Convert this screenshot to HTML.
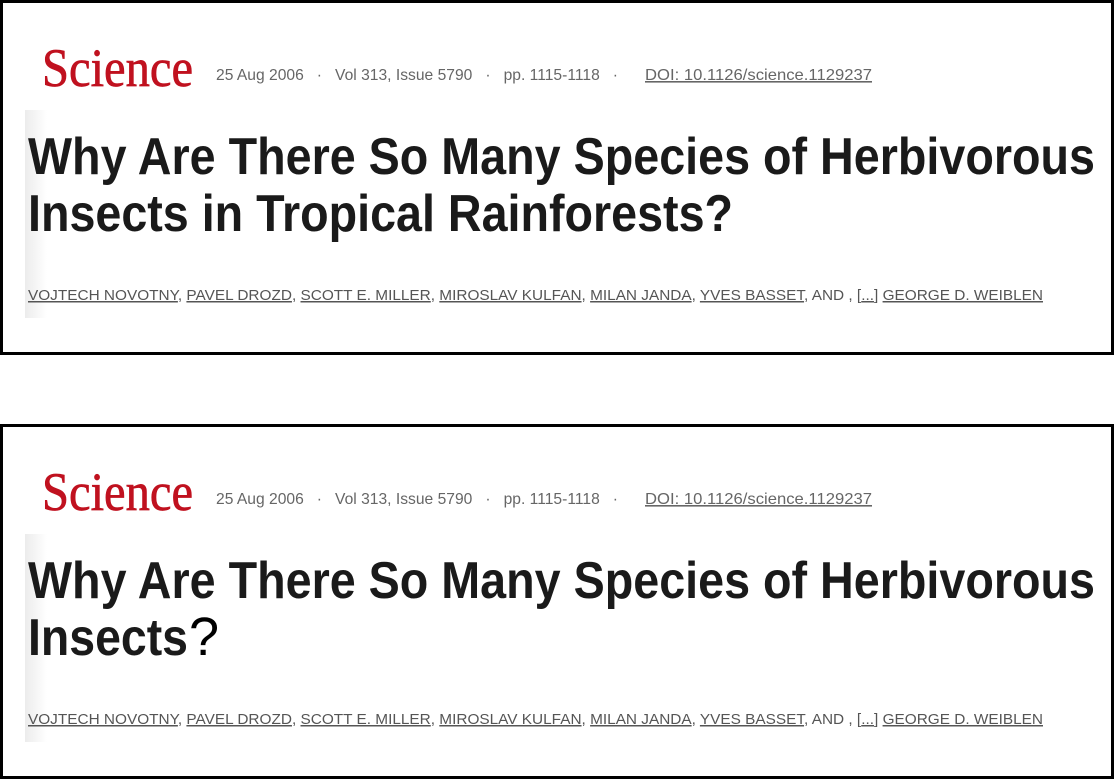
<!DOCTYPE html>
<html><head><meta charset="utf-8"><style>
html,body{margin:0;padding:0;background:#fff;width:1115px;height:781px;overflow:hidden}
svg{display:block}
.logo{font-family:"Liberation Serif",serif;fill:#c0111f;font-size:54px;stroke:#c0111f;stroke-width:0.7}
.meta{font-family:"Liberation Sans",sans-serif;fill:#666;font-size:16px}
.title{font-family:"Liberation Sans",sans-serif;fill:#1a1a1a;font-size:52px;font-weight:bold}
.auth{font-family:"Liberation Sans",sans-serif;fill:#555;font-size:15px}
</style></head><body>
<svg width="1115" height="781" viewBox="0 0 1115 781">
<defs><linearGradient id="g" x1="0" x2="1"><stop offset="0" stop-color="#ececec"/><stop offset="1" stop-color="#fff"/></linearGradient></defs>
<g>
<rect x="1.5" y="1.5" width="1111" height="352" fill="#fff" stroke="#000" stroke-width="3"/>
<rect x="25" y="110" width="22" height="208" fill="url(#g)"/>
<text class="logo" x="42" y="86" textLength="151" lengthAdjust="spacingAndGlyphs">Science</text>
<text class="meta" x="216" y="80" textLength="402" lengthAdjust="spacingAndGlyphs" xml:space="preserve">25 Aug 2006   ·   Vol 313, Issue 5790   ·   pp. 1115-1118   ·</text>
<text class="meta" x="645" y="80" textLength="227" lengthAdjust="spacingAndGlyphs" text-decoration="underline">DOI: 10.1126/science.1129237</text>
<text class="title" x="28" y="174" textLength="1067" lengthAdjust="spacingAndGlyphs">Why Are There So Many Species of Herbivorous</text>
<text class="title" x="28" y="231" textLength="705" lengthAdjust="spacingAndGlyphs">Insects in Tropical Rainforests?</text>
<text class="auth" x="28" y="300" textLength="1015" lengthAdjust="spacingAndGlyphs"><tspan text-decoration="underline">VOJTECH NOVOTNY</tspan>, <tspan text-decoration="underline">PAVEL DROZD</tspan>, <tspan text-decoration="underline">SCOTT E. MILLER</tspan>, <tspan text-decoration="underline">MIROSLAV KULFAN</tspan>, <tspan text-decoration="underline">MILAN JANDA</tspan>, <tspan text-decoration="underline">YVES BASSET</tspan>, AND , [<tspan text-decoration="underline">...</tspan>] <tspan text-decoration="underline">GEORGE D. WEIBLEN</tspan></text>
</g>
<g>
<rect x="1.5" y="425.5" width="1111" height="352" fill="#fff" stroke="#000" stroke-width="3"/>
<rect x="25" y="534" width="22" height="208" fill="url(#g)"/>
<text class="logo" x="42" y="510" textLength="151" lengthAdjust="spacingAndGlyphs">Science</text>
<text class="meta" x="216" y="504" textLength="402" lengthAdjust="spacingAndGlyphs" xml:space="preserve">25 Aug 2006   ·   Vol 313, Issue 5790   ·   pp. 1115-1118   ·</text>
<text class="meta" x="645" y="504" textLength="227" lengthAdjust="spacingAndGlyphs" text-decoration="underline">DOI: 10.1126/science.1129237</text>
<text class="title" x="28" y="598" textLength="1067" lengthAdjust="spacingAndGlyphs">Why Are There So Many Species of Herbivorous</text>
<text class="title" x="28" y="655" textLength="160" lengthAdjust="spacingAndGlyphs">Insects</text>
<text x="189" y="655" font-family="Liberation Sans, sans-serif" font-size="54" fill="#000">?</text>
<text class="auth" x="28" y="724" textLength="1015" lengthAdjust="spacingAndGlyphs"><tspan text-decoration="underline">VOJTECH NOVOTNY</tspan>, <tspan text-decoration="underline">PAVEL DROZD</tspan>, <tspan text-decoration="underline">SCOTT E. MILLER</tspan>, <tspan text-decoration="underline">MIROSLAV KULFAN</tspan>, <tspan text-decoration="underline">MILAN JANDA</tspan>, <tspan text-decoration="underline">YVES BASSET</tspan>, AND , [<tspan text-decoration="underline">...</tspan>] <tspan text-decoration="underline">GEORGE D. WEIBLEN</tspan></text>
</g>
</svg>
</body></html>
